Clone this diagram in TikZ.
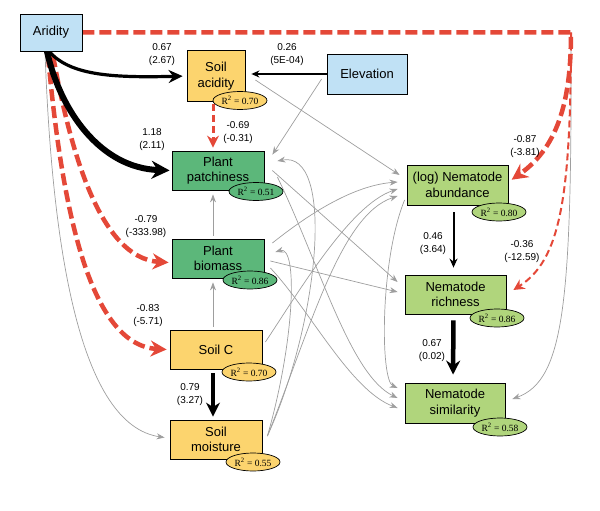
\documentclass[tikz,border=0pt]{standalone}
\usepackage{fontspec}
\setmainfont{Liberation Sans}
\newfontfamily\rfont{Liberation Serif}
\usetikzlibrary{arrows.meta,shapes.geometric}
\definecolor{cblue}{RGB}{192,225,245}
\definecolor{cyel}{RGB}{252,212,110}
\definecolor{cgrn}{RGB}{92,183,122}
\definecolor{clgrn}{RGB}{176,213,124}
\definecolor{cred}{RGB}{228,72,56}
\definecolor{cgray}{RGB}{158,158,158}
\pgfdeclarelayer{bg}
\pgfsetlayers{bg,main}
\begin{document}
\begin{tikzpicture}[x=1pt,y=-1pt,
 box/.style={draw, line width=0.8pt, align=center, inner sep=0pt, font=\fontsize{13}{15.5}\selectfont},
 rsq/.style={draw, ellipse, line width=0.7pt, inner sep=0pt, minimum width=54pt, minimum height=18pt, font=\rfont\fontsize{9.5}{10}\selectfont},
 lab/.style={align=center, font=\fontsize{10}{13}\selectfont, inner sep=0pt},
 gl/.style={draw=cgray, line width=0.7pt, -{Stealth[length=8pt,width=6pt]}},
 reddash/.style={draw=cred, dash pattern=on 12pt off 5pt, line width=4.5pt, -{Stealth[length=16pt,width=16pt]}},
 redthin/.style={draw=cred, dash pattern=on 7pt off 4pt, line width=2pt, -{Stealth[length=11pt,width=11pt]}},
]
\useasboundingbox (0,0) rectangle (600,511);
% nodes
\node[box, fill=cblue, minimum width=62pt, minimum height=37pt] (ar) at (51,32.5) {Aridity};
\node[box, fill=cyel, minimum width=58pt, minimum height=51pt] (acid) at (216,76) {Soil\\acidity};
\node[box, fill=cblue, minimum width=80pt, minimum height=40pt] (elev) at (367,74) {Elevation};
\node[box, fill=cgrn, minimum width=92pt, minimum height=39pt] (patch) at (218,170.5) {Plant\\patchiness};
\node[box, fill=cgrn, minimum width=92pt, minimum height=39pt] (bio) at (218,258.5) {Plant\\biomass};
\node[box, fill=cyel, minimum width=92pt, minimum height=39pt] (soilc) at (216,349.5) {Soil C};
\node[box, fill=cyel, minimum width=92pt, minimum height=39pt] (moist) at (216,439.5) {Soil\\moisture};
\node[box, fill=clgrn, minimum width=101pt, minimum height=40pt] (abund) at (457.5,185) {(log) Nematode\\abundance};
\node[box, fill=clgrn, minimum width=101pt, minimum height=39pt] (rich) at (455.5,294.5) {Nematode\\richness};
\node[box, fill=clgrn, minimum width=100pt, minimum height=40pt] (sim) at (455,403) {Nematode\\similarity};
% R2 ellipses
\node[rsq, fill=cyel] (r1) at (240,100.5) {R\textsuperscript{2} = 0.70};
\node[rsq, fill=cgrn] (r2) at (256,191.5) {R\textsuperscript{2} = 0.51};
\node[rsq, fill=cgrn] (r3) at (250,280) {R\textsuperscript{2} = 0.86};
\node[rsq, fill=cyel] (r4) at (249,372) {R\textsuperscript{2} = 0.70};
\node[rsq, fill=cyel] (r5) at (253,462) {R\textsuperscript{2} = 0.55};
\node[rsq, fill=clgrn] (r6) at (499,212) {R\textsuperscript{2} = 0.80};
\node[rsq, fill=clgrn] (r7) at (497,318) {R\textsuperscript{2} = 0.86};
\node[rsq, fill=clgrn] (r8) at (500,427) {R\textsuperscript{2} = 0.58};
% labels
\node[lab] (l1) at (162,55) {0.67\\(2.67)};
\node[lab] (l2) at (287,55) {0.26\\(5E-04)};
\node[lab] (l3) at (152,140) {1.18\\(2.11)};
\node[lab] (l4) at (238,133) {-0.69\\(-0.31)};
\node[lab] (l5) at (146,227) {-0.79\\(-333.98)};
\node[lab] (l6) at (148,316) {-0.83\\(-5.71)};
\node[lab] (l7) at (190,395) {0.79\\(3.27)};
\node[lab] (l8) at (525,147) {-0.87\\(-3.81)};
\node[lab] (l9) at (433,244) {0.46\\(3.64)};
\node[lab] (l10) at (522,252) {-0.36\\(-12.59)};
\node[lab] (l11) at (432,351) {0.67\\(0.02)};
\coordinate (corner) at (571,32.5);
\begin{pgfonlayer}{bg}
% gray connectors
\draw[gl] ([xshift=-6pt]ar.south) .. controls (52,250) and (80,425) .. ([xshift=-5pt,yshift=2pt]moist.west);
\draw[gl] (corner) .. controls (572,300) and (565,380) .. ([xshift=7pt,yshift=4pt]sim.east);
\draw[gl] ([xshift=-5pt,yshift=-5pt]elev.west) -- ([xshift=8pt,yshift=-4pt]patch.north east);
\draw[gl] ([xshift=10pt,yshift=-4pt]acid.east) -- ([xshift=-7pt,yshift=10pt]abund.west);
\draw[gl, line width=0.9pt, shorten <=3pt, shorten >=4pt] ([xshift=-5pt]bio.north) -- ([xshift=-5pt]patch.south);
\draw[gl, line width=0.9pt, shorten <=3pt, shorten >=4pt] ([xshift=-3pt]soilc.north) -- ([xshift=-5pt]bio.south);
\draw[gl] ([xshift=8pt]patch.east) -- ([xshift=-7pt,yshift=12.5pt]rich.west);
\draw[gl] ([xshift=13pt,yshift=-6.5pt]patch.east) .. controls (320,265) and (350,375) .. ([xshift=-7pt,yshift=5pt]sim.west);
\draw[gl] ([xshift=8pt,yshift=15.5pt]bio.east) .. controls (320,205) and (360,185) .. ([xshift=-9pt,yshift=3pt]abund.west);
\draw[gl] ([xshift=6pt,yshift=-2.5pt]bio.east) -- ([xshift=-7pt,yshift=2.5pt]rich.west);
\draw[gl] ([xshift=6pt,yshift=-9.5pt]bio.east) .. controls (310,310) and (350,390) .. ([xshift=-7pt,yshift=-5pt]sim.west);
\draw[gl] ([xshift=3pt,yshift=7.5pt]soilc.east) .. controls (300,290) and (350,205) .. ([xshift=-9pt,yshift=-4pt]abund.west);
\draw[gl] ([xshift=5pt,yshift=3.5pt]moist.east) .. controls (310,330) and (340,215) .. ([xshift=-9pt,yshift=-11pt]abund.west);
\draw[gl] ([xshift=5pt,yshift=3.5pt]moist.east) .. controls (320,320) and (335,150) .. ([xshift=13pt,yshift=9.5pt]patch.east);
\draw[gl] ([xshift=5pt,yshift=3.5pt]moist.east) .. controls (295,340) and (298,245) .. ([xshift=11pt,yshift=6.5pt]bio.east);
\draw[gl] ([xshift=-2pt,yshift=-15pt]abund.west) .. controls (380,260) and (380,380) .. ([xshift=-7pt,yshift=15pt]sim.west);
% red dashed
\draw[reddash, shorten >=4pt] (ar.east) -- (corner) to[out=-90,in=35] ([yshift=3pt]abund.east);
\draw[redthin] (corner) .. controls (571,200) and (560,260) .. ([xshift=7pt,yshift=4.5pt]rich.east);
\draw[reddash] ([xshift=2pt,yshift=-4pt]ar.south) .. controls (70,150) and (100,258) .. ([xshift=-3pt,yshift=-4pt]bio.west);
\draw[reddash] ([xshift=-3pt,yshift=-4pt]ar.south) .. controls (62,210) and (90,345) .. ([xshift=-3pt]soilc.west);
\draw[draw=cred, dash pattern=on 7pt off 4pt, line width=3pt, -{Stealth[length=12pt,width=12pt]}, shorten >=3pt] ([xshift=-3pt,yshift=-2pt]acid.south) -- ([xshift=-5pt]patch.north);
% black arrows
\draw[line width=3.2pt, -{Stealth[length=14pt,width=13pt]}, shorten >=4pt] ([xshift=-2pt]ar.south) .. controls (70,75) and (110,78) .. (acid.west);
\draw[line width=6pt, -{Stealth[length=18pt,width=18pt]}, shorten >=2pt] ([xshift=-4pt]ar.south) .. controls (60,110) and (100,168) .. (patch.west);
\draw[line width=1.3pt, -{Stealth[length=8pt,width=7pt]}, shorten >=6pt] (elev.west) -- (elev.west -| acid.east);
\draw[line width=4.5pt, -{Stealth[length=14pt,width=14pt]}, shorten <=4pt, shorten >=3pt] ([xshift=-3pt]soilc.south) -- ([xshift=-3pt]moist.north);
\draw[line width=2pt, -{Stealth[length=9pt,width=8pt]}, shorten <=7pt, shorten >=7pt] ([xshift=-4pt]abund.south) -- ([xshift=-2pt]rich.north);
\draw[line width=4.5pt, -{Stealth[length=14pt,width=14pt]}, shorten <=6pt, shorten >=8pt] ([xshift=-2pt]rich.south) -- ([xshift=-2pt]sim.north);
\end{pgfonlayer}
\end{tikzpicture}
\end{document}
